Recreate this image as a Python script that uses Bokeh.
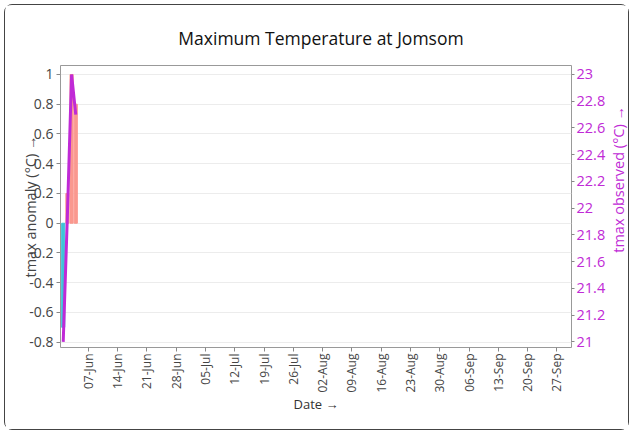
import math
import pandas as pd
from bokeh.plotting import figure
from bokeh.layouts import row, column
from bokeh.models import (Range1d, LinearAxis, FixedTicker, DatetimeTickFormatter,
                          ColumnDataSource)
from bokeh.core.properties import value
from bokeh.embed import file_html
from bokeh.resources import INLINE

# ---- data ----
dates = ["2020-06-01", "2020-06-02", "2020-06-03", "2020-06-04"]
tmax_anomaly = [-0.7, 0.2, 1.0, 0.8]
tmax_observed = [21.0, 21.95, 23.0, 22.7]

week_ticks = ["2020-06-07", "2020-06-14", "2020-06-21", "2020-06-28", "2020-07-05",
              "2020-07-12", "2020-07-19", "2020-07-26", "2020-08-02", "2020-08-09",
              "2020-08-16", "2020-08-23", "2020-08-30", "2020-09-06", "2020-09-13",
              "2020-09-20", "2020-09-27"]
anomaly_ticks = [-0.8, -0.6, -0.4, -0.2, 0.0, 0.2, 0.4, 0.6, 0.8, 1.0]
anomaly_labels = ["-0.8", "-0.6", "-0.4", "-0.2", "0", "0.2", "0.4", "0.6", "0.8", "1"]
observed_ticks = [21.0, 21.2, 21.4, 21.6, 21.8, 22.0, 22.2, 22.4, 22.6, 22.8, 23.0]
observed_labels = ["21", "21.2", "21.4", "21.6", "21.8", "22", "22.2", "22.4", "22.6", "22.8", "23"]

title_text = "Maximum Temperature at Jomsom"
x_start = "2020-05-31 08:24"
x_end = "2020-09-30 11:45"

NEG = "#3fc3d7"
POS = "#fa988e"
MAG = "#c02ad6"
FONT = "Open Sans"

FRAME_W, FRAME_H = 513, 282
LEFT, RIGHT, TOP, BOTTOM = 55, 35, 10, 82
PLOT_H = TOP + FRAME_H + BOTTOM
PLOT_W = LEFT + FRAME_W + RIGHT
SIDE_W = 20
HEAD_H = 50
TOTAL_W = PLOT_W + SIDE_W

dt = pd.to_datetime(dates)
src = ColumnDataSource(dict(
    date=dt,
    anomaly=tmax_anomaly,
    observed=tmax_observed,
    color=[NEG if v < 0 else POS for v in tmax_anomaly],
))

p = figure(width=PLOT_W, height=PLOT_H, x_axis_type="datetime",
           x_range=Range1d(pd.Timestamp(x_start), pd.Timestamp(x_end)),
           y_range=Range1d(-0.8356, 1.0605),
           output_backend="svg", toolbar_location=None,
           min_border_left=LEFT, min_border_right=RIGHT, min_border_top=TOP, min_border_bottom=BOTTOM)

p.extra_y_ranges = {"obs": Range1d(20.958, 23.067)}

p.outline_line_color = "#999"
p.xgrid.visible = False
p.ygrid.ticker = FixedTicker(ticks=anomaly_ticks)
p.ygrid.grid_line_color = "#ececec"

# bars
day_ms = 86400000
p.vbar(x="date", top="anomaly", bottom=0, width=0.75 * day_ms, color="color", source=src)
# observed line
p.line(x="date", y="observed", source=src, line_color=MAG, line_width=3, y_range_name="obs")

# x axis
xa = p.xaxis[0]
xa.ticker = FixedTicker(ticks=[pd.Timestamp(t).value / 1e6 for t in week_ticks])
xa.formatter = DatetimeTickFormatter(days="%d-%b", months="%d-%b", years="%d-%b", hours="%d-%b")
xa.major_label_orientation = math.pi / 2
xa.major_label_text_font = FONT
xa.major_label_text_font_size = "12px"
xa.major_label_text_color = "#444"
xa.major_label_standoff = 2
xa.major_tick_out = 4
xa.major_tick_in = 0
xa.minor_tick_out = 0
xa.minor_tick_in = 0
xa.major_tick_line_color = "#888"
xa.axis_line_color = None
xa.axis_label = "Date →"
xa.axis_label_text_font = FONT
xa.axis_label_text_font_size = "13px"
xa.axis_label_text_font_style = "normal"
xa.axis_label_text_color = "#333"
xa.axis_label_standoff = -1

# left axis
ya = p.yaxis[0]
ya.ticker = FixedTicker(ticks=anomaly_ticks)
ya.major_label_overrides = {t: l for t, l in zip(anomaly_ticks, anomaly_labels)}
ya.major_label_text_font = FONT
ya.major_label_text_font_size = "14px"
ya.major_label_text_color = "#444"
ya.major_label_standoff = 3
ya.major_tick_out = 4
ya.major_tick_in = 0
ya.minor_tick_out = 0
ya.minor_tick_in = 0
ya.major_tick_line_color = "#888"
ya.axis_line_color = None
ya.axis_label = "tmax anomaly (°C) →"
ya.axis_label_text_font = FONT
ya.axis_label_text_font_size = "14.5px"
ya.axis_label_text_font_style = "normal"
ya.axis_label_text_color = "#444"
ya.axis_label_standoff = -14

# right axis
ra = LinearAxis(y_range_name="obs")
ra.ticker = FixedTicker(ticks=observed_ticks)
ra.major_label_overrides = {t: l for t, l in zip(observed_ticks, observed_labels)}
ra.major_label_text_font = FONT
ra.major_label_text_font_size = "14.5px"
ra.major_label_text_color = MAG
ra.major_label_standoff = 2
ra.major_tick_out = 3
ra.major_tick_in = 0
ra.minor_tick_out = 0
ra.minor_tick_in = 0
ra.major_tick_line_color = "#888"
ra.axis_line_color = None
p.add_layout(ra, "right")


def text_strip(w, h):
    f = figure(width=w, height=h, x_range=Range1d(0, w), y_range=Range1d(0, h),
               output_backend="svg", toolbar_location=None, min_border=0)
    f.axis.visible = False
    f.grid.visible = False
    f.outline_line_color = None
    return f


# strip for the right axis title (reads bottom-to-top)
p2 = text_strip(SIDE_W, PLOT_H)
p2.text(x=[SIDE_W / 2], y=[PLOT_H - TOP - FRAME_H / 2], text=["tmax observed (°C) →"],
        angle=math.pi / 2, text_align="center", text_baseline="middle",
        text_font=value(FONT), text_font_size="14.5px", text_color=MAG)

# header strip with the chart title
ph = text_strip(TOTAL_W, HEAD_H)
ph.text(x=[LEFT + FRAME_W / 2 + 4], y=[18], text=[title_text],
        text_align="center", text_baseline="alphabetic",
        text_font=value(FONT), text_font_size="17.5px", text_color="#111")

layout = column(ph, row(p, p2, spacing=0), spacing=0)
layout.styles = {"border": "1px solid #444", "border-radius": "8px",
                 "margin-left": "4px", "margin-top": "4px"}

open("out.html", "w").write(file_html(layout, INLINE))
